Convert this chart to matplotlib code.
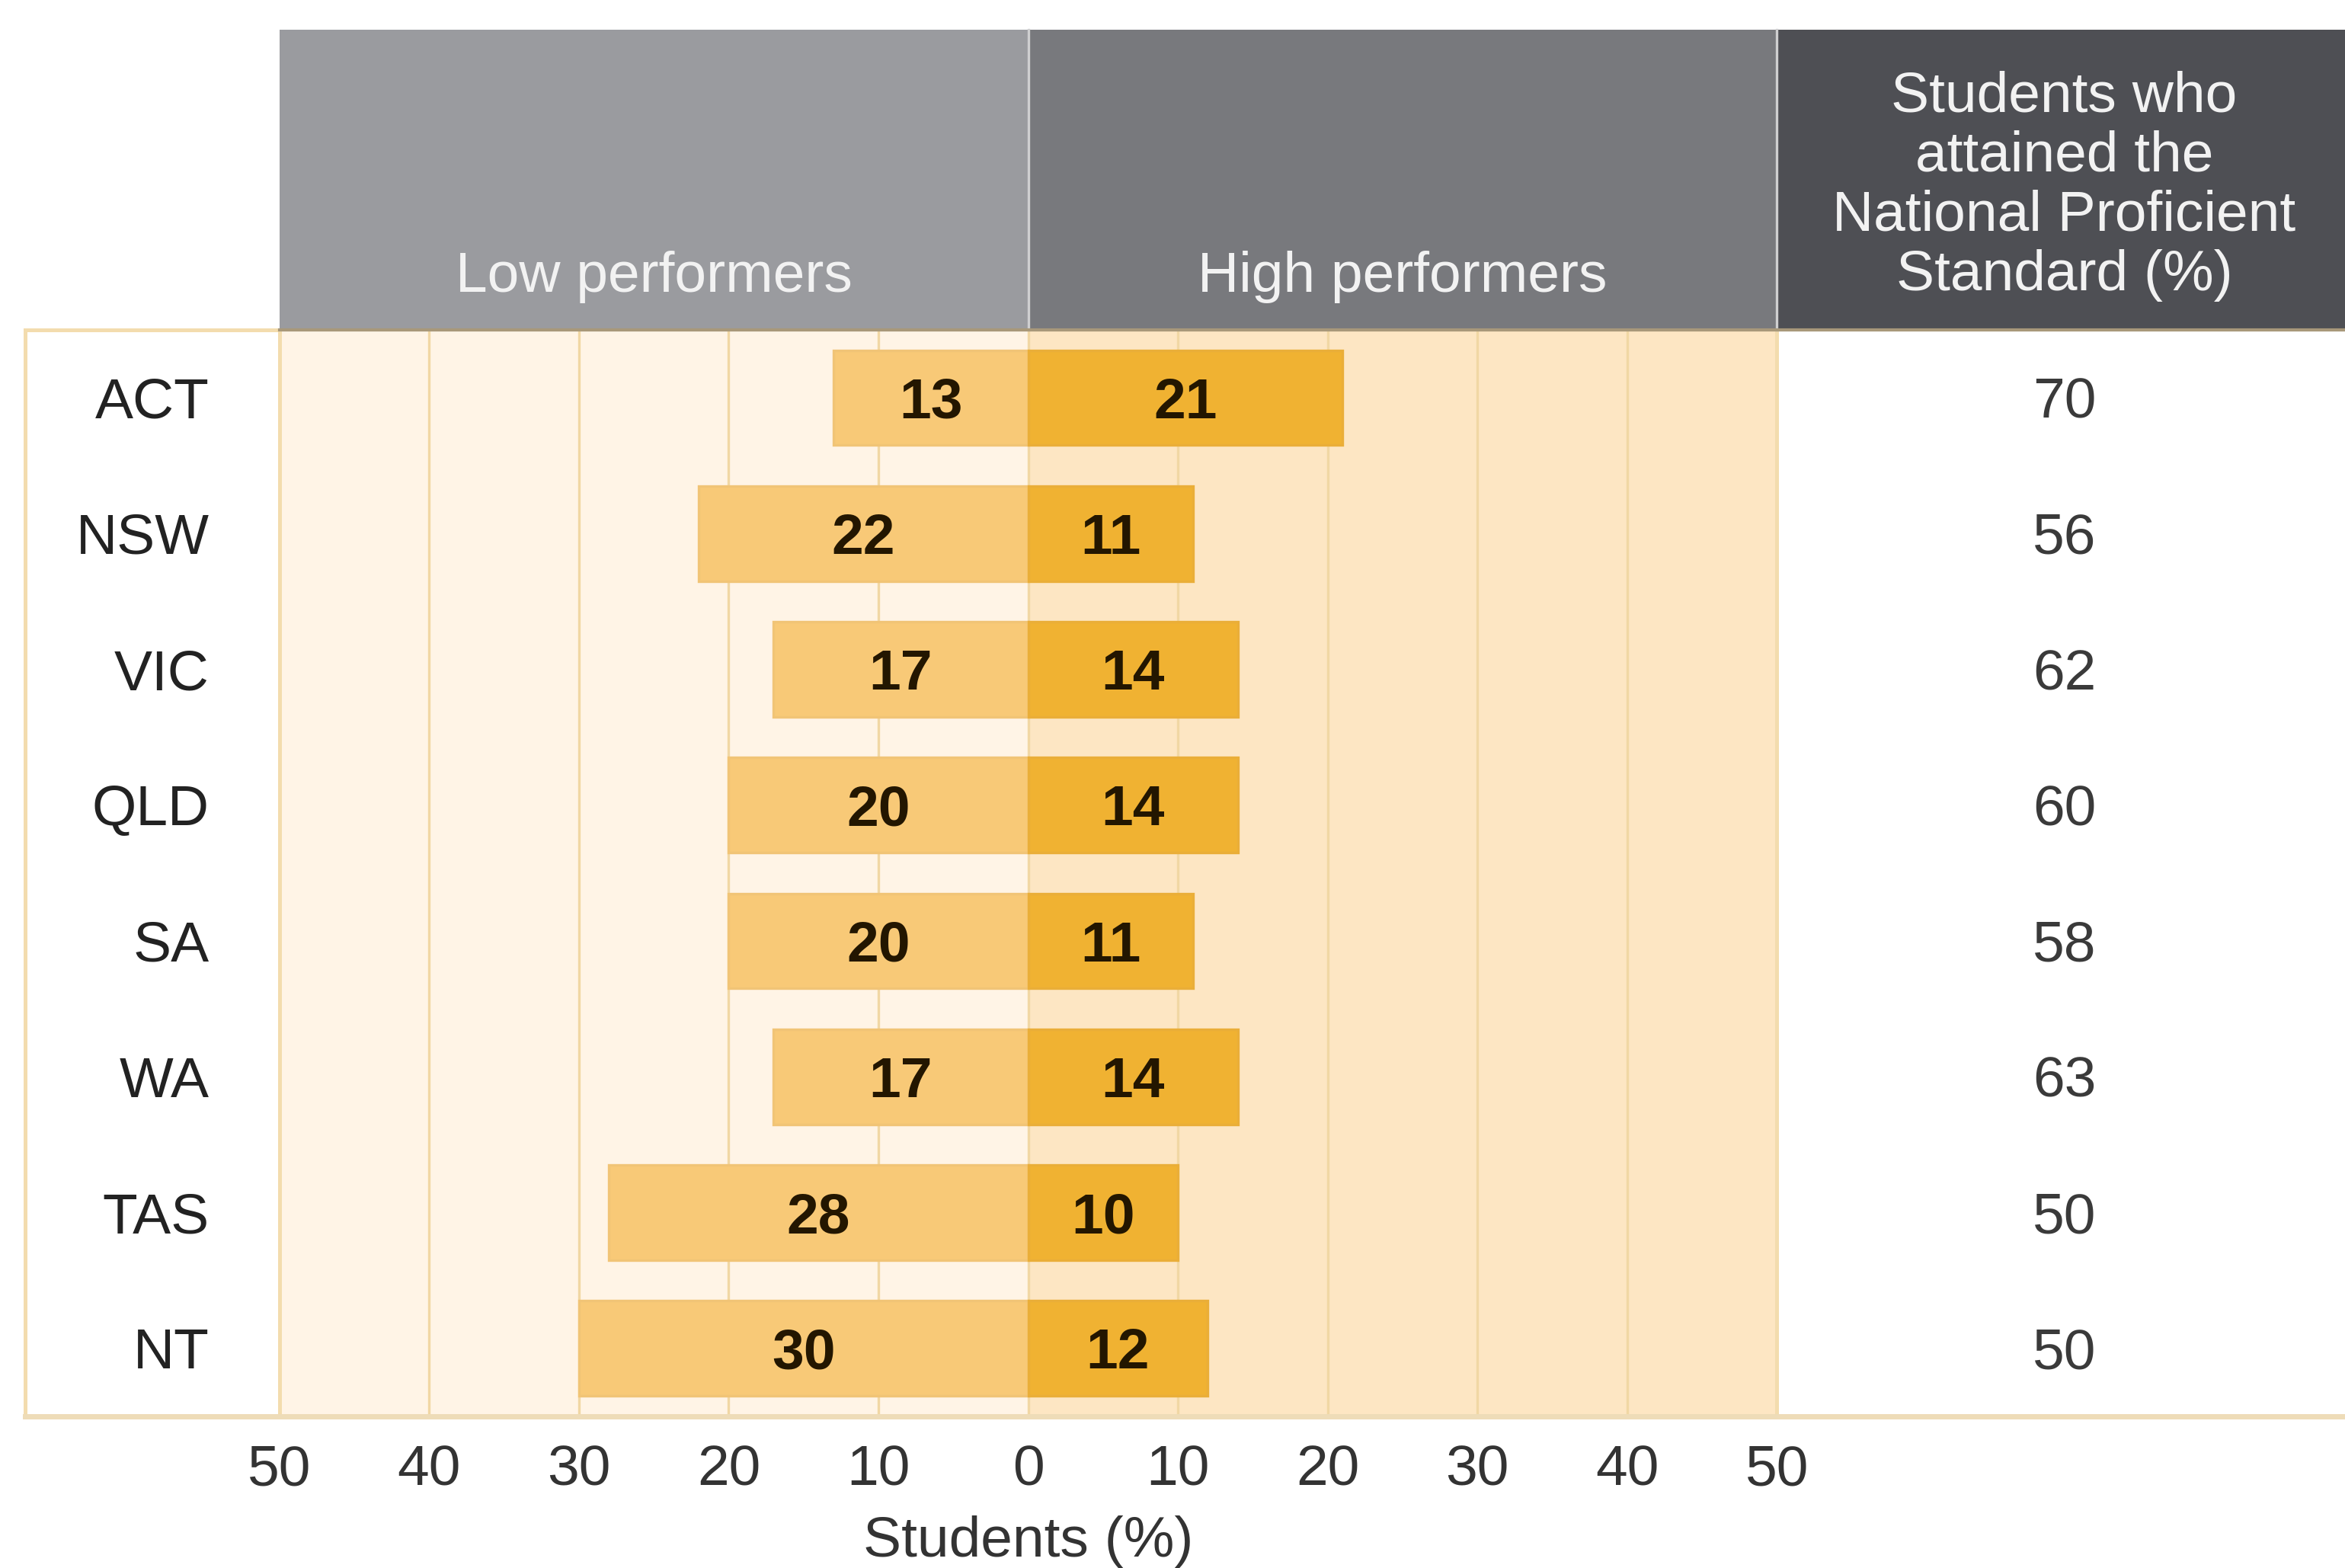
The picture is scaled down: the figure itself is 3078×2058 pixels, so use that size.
import matplotlib
matplotlib.use('Agg')
import matplotlib.pyplot as plt
from matplotlib.patches import Rectangle

plt.rcParams['font.family'] = ['Liberation Sans', 'DejaVu Sans']

states = ['ACT', 'NSW', 'VIC', 'QLD', 'SA', 'WA', 'TAS', 'NT']
low_performers = [13, 22, 17, 20, 20, 17, 28, 30]
high_performers = [21, 11, 14, 14, 11, 14, 10, 12]
proficient = [70, 56, 62, 60, 58, 63, 50, 50]
ticks = [-50, -40, -30, -20, -10, 0, 10, 20, 30, 40, 50]

LOW_BG = '#fff4e6'
HIGH_BG = '#fde6c3'
GRID = '#f1d7a4'
LOW_BAR = '#f8c977'
HIGH_BAR = '#f0b232'
BORDER = '#f3dcae'
FS = 27

fig = plt.figure(figsize=(15.39, 10.29), dpi=200)
ax = fig.add_axes([0.1192, 0.0967, 0.6385, 0.693])
ax.set_xlim(-50, 50)
ax.set_ylim(7.5, -0.5)

# shaded halves + grid
ax.axvspan(-50, 0, color=LOW_BG, zorder=0, lw=0)
ax.axvspan(0, 50, color=HIGH_BG, zorder=0, lw=0)
for t in ticks:
    ax.axvline(t, color=GRID, lw=1.2, zorder=1)

ypos = list(range(len(states)))
ax.barh(ypos, [-v for v in low_performers], height=0.7, color=LOW_BAR,
        edgecolor='#f1c476', lw=1.2, zorder=2)
ax.barh(ypos, high_performers, height=0.7, color=HIGH_BAR,
        edgecolor='#eaae38', lw=1.2, zorder=2)

dy = 0.04
for y, lo, hi, p, s in zip(ypos, low_performers, high_performers, proficient, states):
    ax.text(-lo / 2, y + dy, str(lo), ha='center', va='center', fontsize=FS,
            fontweight='bold', color='#231600', zorder=3)
    ax.text(hi / 2, y + dy, str(hi), ha='center', va='center', fontsize=FS,
            fontweight='bold', color='#231600', zorder=3)
    ax.text(69.2, y + dy, str(p), ha='center', va='center', fontsize=FS,
            color='#3a3a3a', clip_on=False, zorder=5)
    ax.text(-54.7, y + dy, s, ha='right', va='center', fontsize=FS,
            color='#222222', clip_on=False, zorder=5)

for sp in ax.spines.values():
    sp.set_visible(False)

ax.set_xticks(ticks)
ax.set_xticklabels([str(abs(t)) for t in ticks], fontsize=FS, color='#333333')
ax.tick_params(axis='x', length=0, pad=13)
ax.set_yticks([])
ax.set_xlabel('Students (%)', fontsize=FS, color='#333333', labelpad=9)

# side panels
ax.add_patch(Rectangle((-67, -0.5), 17, 8, facecolor='white', edgecolor=BORDER,
                       lw=1.8, clip_on=False, zorder=4))
ax.add_patch(Rectangle((50, -0.5), 38, 8, facecolor='white', edgecolor='none',
                       clip_on=False, zorder=4))
ax.plot([50, 50], [-0.5, 7.5], color=BORDER, lw=1.8, clip_on=False, zorder=4)
ax.plot([-67, 88], [7.5, 7.5], color='#eedcb8', lw=2.5, clip_on=False, zorder=4)

# header
hh = 2.21
ax.add_patch(Rectangle((-50, -0.5), 50, -hh, facecolor='#9a9b9f', edgecolor='none',
                       clip_on=False, zorder=4))
ax.add_patch(Rectangle((0, -0.5), 50, -hh, facecolor='#78797d', edgecolor='none',
                       clip_on=False, zorder=4))
ax.add_patch(Rectangle((50, -0.5), 38, -hh, facecolor='#4e4f54', edgecolor='none',
                       clip_on=False, zorder=4))
for xd in [0, 50]:
    ax.plot([xd, xd], [-0.5, -0.5 - hh], color='#cfcfd0', lw=1.2, clip_on=False, zorder=5)
ax.plot([-50, 88], [-0.5, -0.5], color='#a8987a', lw=1.5, clip_on=False, zorder=5)

ax.text(-25, -0.89, 'Low performers', ha='center', va='center', fontsize=FS,
        color='#f2f2f2', clip_on=False, zorder=6)
ax.text(25, -0.89, 'High performers', ha='center', va='center', fontsize=FS,
        color='#f2f2f2', clip_on=False, zorder=6)
ax.text(69.2, -1.56, 'Students who\nattained the\nNational Proficient\nStandard (%)',
        ha='center', va='center', fontsize=FS, color='#f2f2f2', linespacing=1.17,
        clip_on=False, zorder=6)

fig.savefig('out.png', dpi=200, facecolor='white')
plt.close()
